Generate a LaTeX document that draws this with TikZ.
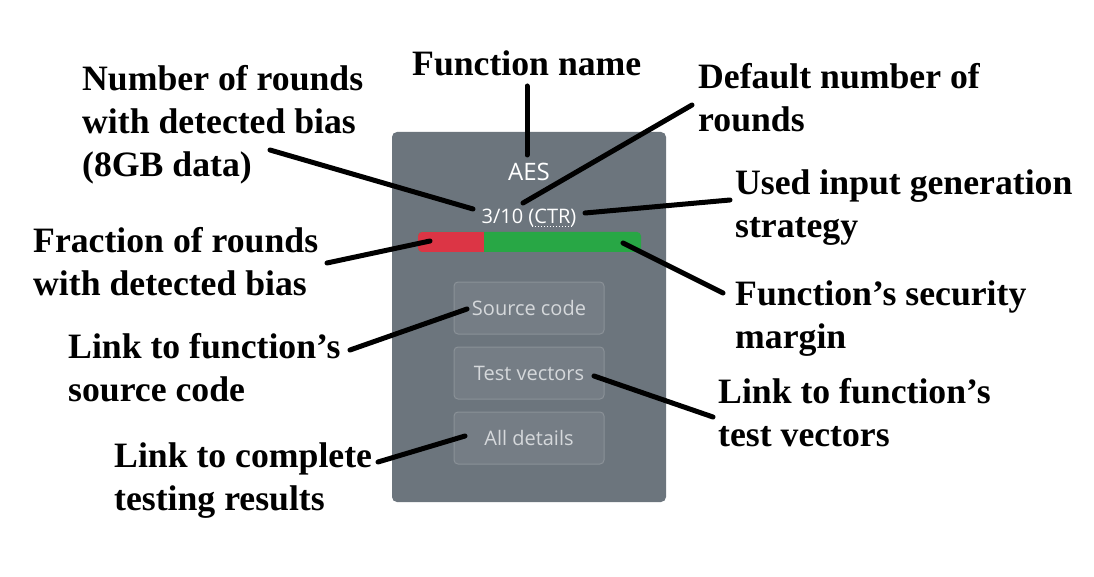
\documentclass[tikz,border=0pt]{standalone}
\usepackage{fontspec}
\setmainfont{Liberation Serif}
\newfontfamily\cardfont{Open Sans}

\definecolor{cardgray}{HTML}{6C757D}
\definecolor{barred}{HTML}{DC3545}
\definecolor{bargreen}{HTML}{28A745}
\definecolor{btntext}{HTML}{D5D8DB}
\definecolor{btnline}{HTML}{8A9197}

\begin{document}
\begin{tikzpicture}[x=1pt,y=-1pt,
		label/.style={anchor=base west,align=left,inner sep=0pt,
			font=\fontsize{35.7}{43}\selectfont\bfseries},
		leader/.style={line width=5pt,line cap=round},
		btn/.style={draw=btnline,line width=1pt,fill=cardgray!94!white,
			rounded corners=4pt,minimum width=150pt,minimum height=52pt,
			text=btntext,font=\cardfont\fontsize{20}{24}\selectfont}]
		\useasboundingbox[fill=white] (0,0) rectangle (1094,577) ;

		% the card
		\fill[cardgray,rounded corners=5pt] (392,132) rectangle (666,502) ;
		\node[text=white,font=\cardfont\fontsize{24}{28}\selectfont] (aes) at (529,172) {AES} ;
		\node[anchor=base,inner sep=0pt,text=white,font=\cardfont\fontsize{20}{24}\selectfont] (ratio) at (529,224) {3/10 (CTR)} ;
		\draw[white,line width=1pt,dotted] (532,227) -- (572,227) ;

		% bar
		\fill[bargreen,rounded corners=4pt] (418,232) rectangle (641,252) ;
		\begin{scope}
			\clip[rounded corners=4pt] (418,232) rectangle (641,252) ;
			\fill[barred] (418,232) rectangle (484,252) ;
		\end{scope}

		% buttons
		\node[btn] (source) at (529,308) {Source code} ;
		\node[btn] (vectors) at (529,373) {Test vectors} ;
		\node[btn] (details) at (529,438) {All details} ;

		% labels (placed at the baseline of their last line)
		\node[label] (lrounds) at (82,177) {Number of rounds\\with detected bias\\(8GB data)} ;
		\node[label] (lname) at (412,76) {Function name} ;
		\node[label] (ldefault) at (698,132) {Default number of\\rounds} ;
		\node[label] (lstrategy) at (735,237) {Used input generation\\strategy} ;
		\node[label] (lfraction) at (33,295) {Fraction of rounds\\with detected bias} ;
		\node[label] (lmargin) at (735,348) {Function’s security\\margin} ;
		\node[label] (lsource) at (68,401) {Link to function’s\\source code} ;
		\node[label] (lvectors) at (718,446) {Link to function’s\\test vectors} ;
		\node[label] (lresults) at (114,510) {Link to complete\\testing results} ;

		% leader ends
		\coordinate (name-a) at (527,86) ;
		\coordinate (name-b) at (527,155) ;
		\coordinate (rounds-a) at (270,150) ;
		\coordinate (rounds-b) at (473,209) ;
		\coordinate (default-a) at (692,105) ;
		\coordinate (default-b) at (523,203) ;
		\coordinate (strategy-a) at (730,200) ;
		\coordinate (strategy-b) at (585,213) ;
		\coordinate (fraction-a) at (327,263) ;
		\coordinate (fraction-b) at (430,241) ;
		\coordinate (margin-a) at (723,293) ;
		\coordinate (margin-b) at (623,243) ;
		\coordinate (source-a) at (350,350) ;
		\coordinate (source-b) at (467,309) ;
		\coordinate (vectors-a) at (713,417) ;
		\coordinate (vectors-b) at (594,376) ;
		\coordinate (results-a) at (378,462) ;
		\coordinate (results-b) at (465,436) ;

		\foreach \n in {name,rounds,default,strategy,fraction,margin,source,vectors,results}
			\draw[leader] (\n-a) -- (\n-b) ;
	\end{tikzpicture}
\end{document}
